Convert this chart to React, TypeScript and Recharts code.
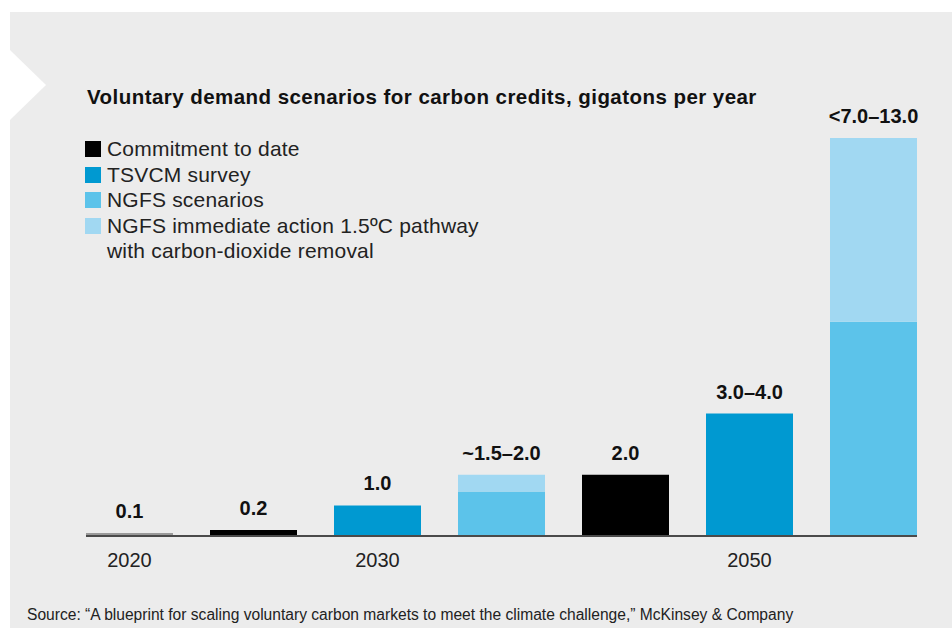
import React from "react";
import { Bar, BarChart, LabelList, XAxis, YAxis } from "recharts";

const FONT = '"Liberation Sans", Arial, Helvetica, sans-serif';

const categories = ["2020", "2030 commitment", "2030", "2030 NGFS", "2050 commitment", "2050", "2050 NGFS"];
const tickLabels = ["2020", "", "2030", "", "", "2050", ""];
const historical = [0.1, 0, 0, 0, 0, 0, 0];
const commitment = [0, 0.2, 0, 0, 2.0, 0, 0];
const tsvcm = [0, 0, 1.0, 0, 0, 4.0, 0];
const ngfs = [0, 0, 0, 1.45, 0, 0, 7.0];
const ngfsCdr = [0, 0, 0, 0.55, 0, 0, 6.0];
const valueLabels = ["0.1", "0.2", "1.0", "~1.5–2.0", "2.0", "3.0–4.0", "<7.0–13.0"];

const SERIES = [
  { key: "historical", values: historical, color: "#9a9a9a", legend: null },
  { key: "commitment", values: commitment, color: "#000000", legend: "Commitment to date" },
  { key: "tsvcm", values: tsvcm, color: "#0099d1", legend: "TSVCM survey" },
  { key: "ngfs", values: ngfs, color: "#5cc3ea", legend: "NGFS scenarios" },
  {
    key: "ngfsCdr",
    values: ngfsCdr,
    color: "#a1d8f2",
    legend: "NGFS immediate action 1.5ºC pathway\nwith carbon-dioxide removal"
  }
];

// the value label goes on whichever series sits on top of each stack
const topKey = categories.map((_, i) => {
  let k = "";
  SERIES.forEach((s) => {
    if (s.values[i] > 0) k = s.key;
  });
  return k;
});

const data = categories.map((name, i) => {
  const row: Record<string, string | number> = { name };
  SERIES.forEach((s) => {
    row[s.key] = s.values[i];
    row[s.key + "Label"] = topKey[i] === s.key ? valueLabels[i] : "";
  });
  return row;
});

function TopLabel(props: any) {
  const box = props.viewBox ?? props;
  if (!props.value) return null;
  const x = Number(box.x) + Number(box.width) / 2;
  const y = Math.min(Number(box.y), Number(box.y) + Number(box.height));
  return (
    <text x={x} y={y - 15} textAnchor="middle" fontSize={20} fontWeight={700} fill="#111" fontFamily={FONT}>
      {props.value}
    </text>
  );
}

function YearTick(props: any) {
  const { x, y, payload } = props;
  const label = tickLabels[payload.index] ?? "";
  if (!label) return null;
  return (
    <text x={x} y={y + 23} textAnchor="middle" fontSize={20} fill="#222" fontFamily={FONT}>
      {label}
    </text>
  );
}

export default function App() {
  return (
    <div style={{ position: "absolute", left: 0, top: 0, width: 952, height: 628, background: "#fff", overflow: "hidden", fontFamily: FONT }}>
      <div style={{ position: "absolute", left: 10, top: 12, width: 942, height: 616, background: "#ececec" }} />
      <svg width={60} height={140} style={{ position: "absolute", left: 0, top: 0 }}>
        <polygon points="10,50 46,85 10,120" fill="#fff" />
      </svg>
      <div
        style={{
          position: "absolute",
          left: 87,
          top: 85,
          fontSize: 20.5,
          letterSpacing: 0.45,
          fontWeight: 700,
          color: "#111",
          whiteSpace: "nowrap"
        }}
      >
        Voluntary demand scenarios for carbon credits, gigatons per year
      </div>
      <div style={{ position: "absolute", left: 85, top: 136 }}>
        {SERIES.filter((s) => s.legend).map((s) => (
          <div
            key={s.key}
            style={{
              position: "relative",
              paddingLeft: 22,
              fontSize: 21,
              letterSpacing: 0.2,
              lineHeight: "25.5px",
              color: "#222",
              whiteSpace: "pre"
            }}
          >
            <span style={{ position: "absolute", left: 0, top: 5, width: 16, height: 16, background: s.color }} />
            {s.legend}
          </div>
        ))}
      </div>
      <div style={{ position: "absolute", left: 27, top: 606, fontSize: 15.6, color: "#222", whiteSpace: "nowrap" }}>
        Source: “A blueprint for scaling voluntary carbon markets to meet the climate challenge,” McKinsey &amp; Company
      </div>
      <div style={{ position: "absolute", left: 0, top: 0 }}>
        <BarChart
          width={952}
          height={628}
          data={data}
          margin={{ top: 138, right: 35, bottom: 62, left: 86 }}
          barCategoryGap={18.5}
        >
          <XAxis
            dataKey="name"
            height={30}
            padding={{ left: -18.5, right: -18.5 }}
            tickLine={false}
            axisLine={{ stroke: "#4a4a4a", strokeWidth: 2 }}
            tick={<YearTick />}
            interval={0}
          />
          <YAxis hide domain={[0, 13]} width={0} />
          {SERIES.map((s) => (
            <Bar key={s.key} dataKey={s.key} stackId="a" fill={s.color} isAnimationActive={false}>
              <LabelList dataKey={s.key + "Label"} content={<TopLabel />} />
            </Bar>
          ))}
        </BarChart>
      </div>
    </div>
  );
}
